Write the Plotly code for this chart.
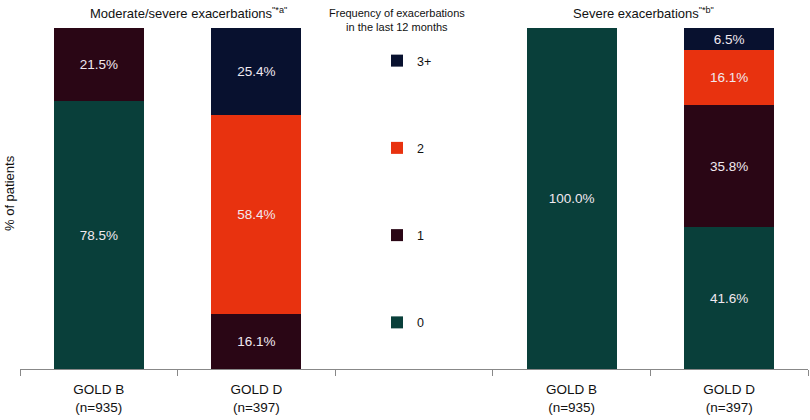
import plotly.graph_objects as go

categories = ["LB", "LD", "MID", "RB", "RD"]
tick_labels = ["GOLD B<br>(n=935)", "GOLD D<br>(n=397)", "", "GOLD B<br>(n=935)", "GOLD D<br>(n=397)"]
bar_cats = ["LB", "LD", "RB", "RD"]

freq_names = ["0", "1", "2", "3+"]
vals_0 = [78.5, 0, 100.0, 41.6]
vals_1 = [21.5, 16.1, 0, 35.8]
vals_2 = [0, 58.4, 0, 16.1]
vals_3 = [0, 25.4, 0, 6.5]
series_values = [vals_0, vals_1, vals_2, vals_3]
colors = ["#093f3a", "#2a0615", "#e8320f", "#08112f"]

L, R, T, B = 20, 2, 28, 51
W, H = 810, 420
pw, ph = W - L - R, H - T - B

def px_x(x):
    return (x - L) / pw

def px_y(y):
    return (H - B - y) / ph

fig = go.Figure()
for i, (name, vals, col) in enumerate(zip(freq_names, series_values, colors)):
    fig.add_trace(go.Bar(
        x=bar_cats, y=vals, name=name, marker=dict(color=col, line=dict(width=0)),
        width=0.57,
        text=[f"{v:.1f}%" if v > 0 else "" for v in vals],
        textposition="inside", insidetextanchor="middle",
        textfont=dict(color="#f1e9f0", size=13.5, family="Liberation Sans, Arial"),
        legendgroup=name, legendrank=len(freq_names) - i,
    ))

fig.update_layout(
    barmode="stack",
    width=W, height=H,
    margin=dict(l=L, r=R, t=T, b=B, autoexpand=False),
    plot_bgcolor="white", paper_bgcolor="white",
    font=dict(family="Liberation Sans, Arial", size=12, color="#111"),
    showlegend=True,
    legend=dict(x=px_x(377), y=px_y(46), xanchor="left", yanchor="top",
                traceorder="grouped", tracegroupgap=68,
                font=dict(size=12.5, color="#111"), bgcolor="rgba(0,0,0,0)",
                itemwidth=30),
    xaxis=dict(type="category", categoryorder="array", categoryarray=categories,
               tickvals=categories, ticktext=tick_labels, range=[-0.5, 4.5],
               tickson="boundaries", ticks="outside", ticklen=6, tickcolor="#888",
               showline=True, linecolor="#888", linewidth=1, automargin=False,
               ticklabelstandoff=8,
               tickfont=dict(size=13.5, color="#111")),
    yaxis=dict(range=[0, 100], showticklabels=False, showgrid=False, zeroline=False,
               showline=False, ticks="", automargin=False),
    annotations=[
        dict(text='Moderate/severe exacerbations<sup>"*a"</sup>', x=px_x(188), y=px_y(13),
             showarrow=False, font=dict(size=13)),
        dict(text="Frequency of exacerbations<br>in the last 12 months", x=px_x(397), y=px_y(20),
             showarrow=False, font=dict(size=11)),
        dict(text='Severe exacerbations<sup>"*b"</sup>', x=px_x(643), y=px_y(13),
             showarrow=False, font=dict(size=13)),
        dict(text="% of patients", x=px_x(9), y=px_y(193), textangle=-90, showarrow=False,
             font=dict(size=13)),
    ],
)
for a in fig.layout.annotations:
    a.xref = "paper"; a.yref = "paper"
    a.xanchor = "center"; a.yanchor = "middle"
fig.write_html("out.html", config={"displayModeBar": False},
               post_script="document.body.style.margin='0px';document.body.style.overflow='hidden';")
